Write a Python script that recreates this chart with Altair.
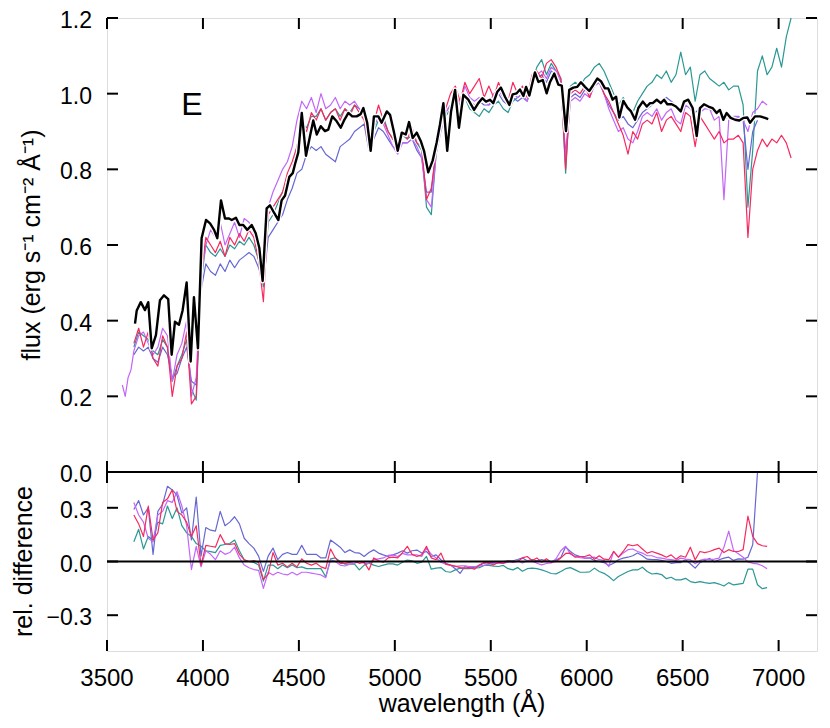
import altair as alt
import pandas as pd

FONT = "Liberation Sans"

# ---------------- data ----------------
# wavelength grid of the four observed spectra (Angstrom)
wave_spec = [3580, 3595, 3610, 3625,
             3640, 3665, 3690, 3715, 3740, 3765, 3790, 3815, 3840, 3865,
             3890, 3915, 3940, 3965, 3990, 4015, 4040, 4065, 4090, 4115,
             4140, 4165, 4190, 4215, 4240, 4265, 4290, 4315, 4340, 4365,
             4390, 4415, 4440, 4465, 4490, 4515, 4540, 4565, 4590, 4615,
             4640, 4665, 4690, 4715, 4740, 4765, 4790, 4815, 4840, 4865,
             4890, 4915, 4940, 4965, 4990, 5015, 5040, 5065, 5090, 5115,
             5140, 5165, 5190, 5215, 5240, 5265, 5290, 5315, 5340, 5365,
             5390, 5415, 5440, 5465, 5490, 5515, 5540, 5565, 5590, 5615,
             5640, 5665, 5690, 5715, 5740, 5765, 5790, 5815, 5840, 5865,
             5890, 5915, 5940, 5965, 5990, 6015, 6040, 6065, 6090, 6115,
             6140, 6165, 6190, 6215, 6240, 6265, 6290, 6315, 6340, 6365,
             6390, 6415, 6440, 6465, 6490, 6515, 6540, 6565, 6590, 6615,
             6640, 6665, 6690, 6715, 6740, 6765, 6790, 6815, 6840, 6865,
             6890, 6915, 6940, 6965,
             6990, 7015, 7040, 7065]

flux_red = [None, None, None, None,
            0.34, 0.38, 0.33, 0.37, 0.30, 0.28, 0.36, 0.33, 0.20, 0.28,
            0.30, 0.37, 0.18, 0.20, 0.52, 0.62, 0.60, 0.58, 0.61, 0.57,
            0.62, 0.60, 0.63, 0.61, 0.64, 0.62, 0.56, 0.45, 0.68, 0.70,
            0.72, 0.74, 0.79, 0.82, 0.86, 0.92, 0.90, 0.95, 0.93, 0.96,
            0.93, 0.95, 0.96, 0.93, 0.96, 0.94, 0.97, 0.95, 0.93, 0.86,
            0.92, 0.97, 0.93, 0.90, 0.88, 0.86, 0.90, 0.88, 0.91, 0.87,
            0.86, 0.72, 0.75, 0.85, 0.92, 0.96, 1.00, 1.02, 0.98, 1.03,
            1.00, 1.02, 1.04, 0.99, 1.02, 0.99, 1.03, 1.00, 0.98, 1.03,
            1.00, 1.02, 0.99, 1.05, 1.06, 1.04, 1.08, 1.09, 1.07, 1.04,
            0.80, 1.00, 1.01, 1.00, 1.02, 0.99, 1.03, 1.04, 1.00, 0.98,
            0.95, 0.92, 0.89, 0.84, 0.90, 0.88, 0.92, 0.93, 0.92, 0.95,
            0.90, 0.93, 0.94, 0.92, 0.90, 0.95, 0.94, 0.86, 0.94, 0.92,
            0.90, 0.88, 0.90, 0.87, 0.88, 0.88, 0.89, 0.87, 0.62, 0.80,
            0.85, 0.88, 0.86, 0.88,
            0.87, 0.89, 0.87, 0.83]

flux_purple = [0.23, 0.20, 0.25, 0.27,
               0.32, 0.36, 0.37, 0.34, 0.31, 0.33, 0.38, 0.36, 0.24, 0.31,
               0.34, 0.40, 0.20, 0.25, 0.52, 0.60, 0.64, 0.62, 0.66, 0.60,
               0.63, 0.66, 0.62, 0.67, 0.66, 0.63, 0.58, 0.50, 0.70, 0.74,
               0.77, 0.80, 0.82, 0.86, 0.93, 0.98, 0.96, 0.99, 0.95, 1.00,
               0.96, 0.97, 0.99, 0.96, 0.98, 0.97, 0.98, 0.96, 0.94, 0.88,
               0.91, 0.94, 0.92, 0.89, 0.86, 0.84, 0.87, 0.87, 0.88, 0.86,
               0.83, 0.72, 0.70, 0.84, 0.90, 0.95, 0.97, 1.00, 0.97, 1.02,
               0.99, 0.98, 0.99, 0.98, 0.97, 1.00, 1.01, 0.99, 0.97, 1.00,
               0.99, 1.00, 0.98, 1.04, 1.05, 1.06, 1.04, 1.07, 1.06, 1.03,
               0.83, 0.98, 0.99, 0.98, 1.00, 0.99, 1.02, 1.03, 1.00, 0.96,
               0.93, 0.90, 0.91, 0.88, 0.87, 0.90, 0.94, 0.95, 0.94, 0.96,
               0.93, 0.95, 0.96, 0.93, 0.92, 0.97, 0.96, 0.93, 0.95, 0.96,
               0.96, 0.93, 0.94, 0.72, 0.93, 0.94, 0.94, 0.93, 0.90, 0.95,
               0.96, 0.98, 0.97, None,
               None, None, None, None]

flux_blue = [None, None, None, None,
             0.31, 0.33, 0.32, 0.33, 0.30, 0.29, 0.33, 0.31, 0.25, 0.26,
             0.30, 0.33, 0.24, 0.23, 0.48, 0.55, 0.53, 0.52, 0.55, 0.53,
             0.56, 0.54, 0.56, 0.57, 0.58, 0.57, 0.54, 0.50, 0.62, 0.64,
             0.66, 0.68, 0.72, 0.75, 0.79, 0.80, 0.84, 0.86, 0.85, 0.86,
             0.84, 0.83, 0.82, 0.86, 0.87, 0.88, 0.90, 0.91, 0.92, 0.85,
             0.88, 0.91, 0.90, 0.88, 0.86, 0.85, 0.87, 0.87, 0.88, 0.85,
             0.83, 0.74, 0.74, 0.85, 0.91, 0.95, 0.97, 0.99, 0.97, 1.00,
             0.98, 0.97, 0.98, 0.97, 0.97, 0.98, 1.00, 0.98, 0.97, 0.99,
             0.98, 0.99, 0.98, 1.03, 1.04, 1.05, 1.03, 1.06, 1.05, 1.02,
             0.84, 0.99, 1.00, 0.99, 1.01, 1.00, 1.02, 1.03, 1.00, 0.97,
             0.95, 0.93, 0.94, 0.92, 0.91, 0.93, 0.95, 0.96, 0.97, 0.98,
             0.98, 0.99, 0.98, 0.97, 0.95, 0.98, 0.97, 0.95, 0.96, 0.97,
             0.96, 0.95, 0.95, 0.93, 0.94, 0.93, 0.94, 0.93, 0.80, 0.90,
             0.93, None, None, None,
             None, None, None, None]

flux_teal = [None, None, None, None,
             0.33, 0.37, 0.36, 0.35, 0.32, 0.31, 0.35, 0.33, 0.24, 0.28,
             0.31, 0.35, 0.22, 0.19, 0.50, 0.60, 0.58, 0.57, 0.59, 0.57,
             0.60, 0.59, 0.61, 0.60, 0.62, 0.60, 0.56, 0.49, 0.66, 0.68,
             0.71, 0.74, 0.77, 0.80, 0.86, 0.92, 0.91, 0.94, 0.94, 0.96,
             0.93, 0.95, 0.96, 0.94, 0.96, 0.95, 0.97, 0.96, 0.95, 0.88,
             0.90, 0.93, 0.94, 0.90, 0.88, 0.86, 0.89, 0.88, 0.89, 0.87,
             0.85, 0.70, 0.68, 0.84, 0.92, 0.94, 0.96, 0.98, 0.94, 0.99,
             0.96, 0.95, 0.94, 0.96, 0.95, 0.97, 0.98, 0.96, 0.95, 0.98,
             0.99, 1.00, 1.01, 1.03, 1.07, 1.09, 1.05, 1.08, 1.06, 1.04,
             0.79, 1.02, 1.03, 1.02, 1.04, 1.05, 1.07, 1.08, 1.06, 1.03,
             1.00, 0.97, 0.99, 0.96, 0.95, 0.98, 1.00, 1.02, 1.03, 1.05,
             1.04, 1.06, 1.03, 1.05, 1.11, 1.05, 1.07, 0.98, 1.05, 1.06,
             1.04, 1.03, 1.02, 1.03, 1.01, 1.02, 1.02, 0.97, 0.70, 0.85,
             1.06, 1.10, 1.05, 1.07,
             1.12, 1.07, 1.15, 1.20]

# model (thick black curve)
wave_model = [3646, 3655, 3676, 3698, 3715, 3733, 3755, 3776, 3797, 3819,
              3837, 3854, 3875, 3894, 3915, 3936, 3953, 3974, 3993, 4016,
              4037, 4058, 4075, 4094, 4115, 4136, 4150, 4172, 4190, 4210,
              4231, 4254, 4275, 4294, 4311, 4332, 4349, 4372, 4393, 4410,
              4428, 4450, 4468, 4480, 4497, 4515, 4537, 4558, 4575, 4593,
              4614, 4636, 4653, 4674, 4697, 4718, 4737, 4758, 4778, 4801,
              4822, 4836, 4856, 4874, 4891, 4914, 4931, 4958, 4975, 4996,
              5015, 5036, 5057, 5074, 5093, 5114, 5135, 5152, 5174, 5197,
              5218, 5235, 5253, 5273, 5293, 5314, 5334, 5357, 5383, 5413,
              5435, 5456, 5475, 5496, 5513, 5534, 5553, 5574, 5597, 5614,
              5635, 5652, 5670, 5684, 5701, 5730, 5748, 5771, 5791, 5809,
              5831, 5852, 5870, 5892, 5909, 5930, 5951, 5970, 5991, 6013,
              6034, 6055, 6074, 6095, 6112, 6135, 6153, 6170, 6191, 6212,
              6231, 6252, 6269, 6292, 6313, 6330, 6344, 6365, 6386, 6403,
              6420, 6443, 6465, 6490, 6507, 6529, 6552, 6573, 6590, 6611,
              6634, 6656, 6677, 6694, 6712, 6729, 6750, 6773, 6795, 6816,
              6837, 6851, 6877, 6903, 6929, 6946]
flux_model = [0.392, 0.427, 0.449, 0.428, 0.449, 0.327, 0.362, 0.454, 0.467, 0.457,
              0.310, 0.397, 0.389, 0.427, 0.501, 0.292, 0.462, 0.327, 0.618, 0.666,
              0.657, 0.640, 0.618, 0.718, 0.670, 0.670, 0.666, 0.672, 0.653, 0.653,
              0.640, 0.653, 0.631, 0.592, 0.505, 0.697, 0.705, 0.684, 0.666, 0.718,
              0.731, 0.780, 0.790, 0.814, 0.845, 0.949, 0.836, 0.888, 0.929, 0.892,
              0.914, 0.901, 0.905, 0.940, 0.927, 0.910, 0.931, 0.949, 0.940, 0.940,
              0.946, 0.962, 0.923, 0.849, 0.940, 0.940, 0.923, 0.953, 0.944, 0.897,
              0.849, 0.897, 0.892, 0.925, 0.883, 0.897, 0.875, 0.849, 0.792, 0.823,
              0.871, 0.918, 0.975, 0.849, 0.953, 1.010, 0.910, 0.997, 0.984, 0.957,
              0.975, 0.988, 0.979, 0.984, 0.975, 1.005, 1.016, 0.992, 0.970, 0.998,
              1.001, 1.011, 0.994, 1.018, 0.995, 1.056, 1.031, 1.036, 1.001, 1.031,
              1.053, 1.024, 1.021, 0.901, 1.010, 1.016, 1.018, 1.030, 1.018, 1.007,
              1.023, 1.040, 1.033, 1.014, 1.014, 0.984, 0.992, 0.937, 0.981, 0.963,
              0.953, 0.931, 0.962, 0.979, 0.966, 0.975, 0.975, 0.984, 0.975, 0.984,
              0.972, 0.972, 0.966, 0.953, 0.979, 0.984, 0.962, 0.888, 0.962, 0.972,
              0.966, 0.962, 0.949, 0.957, 0.931, 0.949, 0.936, 0.931, 0.929, 0.936,
              0.937, 0.923, 0.940, 0.940, 0.936, 0.933]

# relative differences (lower panel)
wave_diff = [3640, 3665, 3690, 3715, 3740, 3765, 3790, 3815, 3840, 3865,
             3890, 3915, 3940, 3965, 3990, 4015, 4040, 4065, 4090, 4115,
             4140, 4165, 4190, 4215, 4240, 4265, 4290, 4315, 4340, 4365,
             4390, 4415, 4440, 4465, 4490, 4515, 4540, 4565, 4590, 4615,
             4640, 4665, 4690, 4715, 4740, 4765, 4790, 4815, 4840, 4865,
             4890, 4915, 4940, 4965, 4990, 5015, 5040, 5065, 5090, 5115,
             5140, 5165, 5190, 5215, 5240, 5265, 5290, 5315, 5340, 5365,
             5390, 5415, 5440, 5465, 5490, 5515, 5540, 5565, 5590, 5615,
             5640, 5665, 5690, 5715, 5740, 5765, 5790, 5815, 5840, 5865,
             5890, 5915, 5940, 5965, 5990, 6015, 6040, 6065, 6090, 6115,
             6140, 6165, 6190, 6215, 6240, 6265, 6290, 6315, 6340, 6365,
             6390, 6415, 6440, 6465, 6490, 6515, 6540, 6565, 6590, 6615,
             6640, 6665, 6690, 6715, 6740, 6765, 6790, 6815, 6840, 6865,
             6890, 6915, 6940]

diff_blue = [0.29, 0.34, 0.26, 0.30, 0.04, 0.28, 0.32, 0.42, 0.40, 0.37,
             0.27, 0.30, 0.12, 0.36, 0.03, 0.19, 0.175, 0.17, 0.28, 0.20,
             0.22, 0.25, 0.21, 0.13, 0.10, 0.075, 0.03, -0.055, 0.03, 0.075,
             0.01, 0.04, 0.05, 0.04, 0.04, 0.09, 0.04, 0.04, 0.04, 0.02,
             0.02, 0.12, 0.10, 0.08, 0.05, 0.065, 0.05, 0.047, 0.028, 0.05,
             0.065, 0.047, 0.037, 0.028, 0.037, 0.047, 0.06, 0.047, 0.06, 0.064,
             0.047, 0.056, 0.028, 0.037, 0.01, -0.01, -0.02, -0.04, -0.066, -0.028,
             -0.037, -0.032, -0.022, -0.01, -0.004, -0.006, -0.01, 0.0, 0.004, 0.004,
             0.011, 0.02, 0.004, 0.01, 0.004, 0.01, 0.004, 0.0, 0.008, 0.022,
             0.082, 0.056, 0.037, 0.028, 0.019, 0.02, 0.006, 0.0, -0.006, -0.022,
             -0.01, 0.01, 0.019, 0.024, 0.032, 0.047, 0.032, 0.013, 0.01, 0.01,
             0.006, 0.0, -0.01, -0.006, -0.006, 0.01, -0.013, -0.037, -0.006, 0.006,
             0.017, -0.002, 0.01, 0.019, 0.024, 0.006, 0.015, 0.013, 0.024, 0.094,
             0.5, None, None]

diff_red = [0.26, 0.21, 0.14, 0.31, 0.12, 0.16, 0.33, 0.35, 0.40, 0.28,
            0.26, 0.22, 0.14, 0.20, -0.02, 0.09, 0.085, 0.08, 0.15, 0.10,
            0.095, 0.10, 0.04, 0.01, 0.0, 0.005, -0.005, -0.10, -0.07, 0.05,
            -0.02, -0.01, -0.03, -0.01, -0.03, 0.015, -0.01, -0.02, -0.01, -0.03,
            -0.04, 0.07, 0.02, -0.01, -0.01, -0.005, 0.0, -0.01, -0.004, -0.047,
            0.02, 0.004, -0.004, 0.02, 0.024, 0.02, 0.05, 0.085, 0.04, 0.028,
            0.037, 0.085, 0.02, 0.01, 0.047, -0.015, -0.02, -0.026, -0.034, -0.037,
            -0.034, -0.043, -0.019, -0.004, -0.01, -0.019, -0.004, -0.01, 0.004, -0.004,
            0.0, 0.02, 0.028, 0.006, 0.02, -0.004, 0.015, -0.004, 0.0, 0.02,
            0.045, 0.047, 0.024, 0.028, 0.028, 0.037, 0.013, 0.032, 0.013, 0.01,
            0.056, 0.024, 0.056, 0.094, 0.088, 0.094, 0.07, 0.047, 0.056, 0.047,
            0.037, 0.024, 0.037, 0.013, 0.032, 0.024, 0.08, 0.01, 0.056, 0.05,
            0.056, 0.066, 0.075, 0.05, 0.066, 0.056, 0.056, 0.066, 0.253, 0.14,
            0.10, 0.088, 0.084]

diff_teal = [0.11, 0.18, 0.07, 0.14, 0.12, 0.22, 0.21, 0.31, 0.24, 0.30,
             0.20, 0.16, 0.14, 0.10, 0.085, 0.06, 0.055, 0.05, 0.09, 0.095,
             0.10, 0.12, 0.06, 0.01, 0.0, -0.005, -0.02, -0.11, -0.02, -0.02,
             -0.04, -0.02, -0.035, -0.02, -0.035, -0.03, -0.04, -0.04, -0.04, -0.04,
             -0.085, 0.015, 0.02, 0.0, -0.015, -0.015, -0.015, -0.047, -0.02, -0.01,
             -0.02, -0.028, -0.02, -0.013, -0.013, -0.02, -0.004, 0.008, 0.004, -0.01,
             -0.004, 0.028, -0.043, -0.037, -0.034, -0.056, -0.06, -0.047, -0.037, -0.04,
             -0.04, -0.037, -0.034, -0.022, -0.022, -0.026, -0.028, -0.022, -0.04, -0.047,
             -0.034, -0.054, -0.04, -0.037, -0.04, -0.047, -0.056, -0.067, -0.069, -0.056,
             -0.04, -0.034, -0.047, -0.06, -0.06, -0.058, -0.037, -0.056, -0.066, -0.084,
             -0.107, -0.084, -0.07, -0.056, -0.047, -0.047, -0.032, -0.056, -0.07, -0.066,
             -0.073, -0.096, -0.088, -0.103, -0.103, -0.094, -0.112, -0.118, -0.112, -0.118,
             -0.122, -0.118, -0.126, -0.137, -0.118, -0.131, -0.126, -0.122, -0.043, -0.043,
             -0.13, -0.152, -0.146]

diff_purple = [0.33, 0.26, 0.22, 0.13, 0.11, 0.26, 0.28, 0.34, 0.33, 0.39,
               0.31, 0.20, -0.045, 0.085, -0.03, 0.06, 0.04, 0.01, 0.06, 0.04,
               0.05, 0.08, 0.02, -0.02, -0.035, -0.045, -0.05, -0.15, -0.06, -0.075,
               -0.06, -0.07, -0.075, -0.06, -0.075, -0.06, -0.06, -0.065, -0.07, -0.075,
               -0.09, 0.01, 0.0, -0.02, -0.025, -0.015, -0.01, 0.0, -0.01, -0.01,
               0.01, 0.015, 0.02, 0.034, 0.037, 0.028, 0.045, 0.037, 0.037, 0.037,
               0.028, 0.075, 0.04, 0.02, -0.004, -0.015, -0.022, -0.028, -0.024, -0.024,
               -0.028, -0.028, -0.026, -0.022, -0.015, -0.011, -0.01, -0.01, -0.004, 0.0,
               0.004, -0.008, 0.004, 0.004, -0.01, -0.019, -0.011, -0.008, 0.015, 0.06,
               0.085, 0.041, 0.028, 0.022, 0.019, 0.02, 0.024, 0.01, 0.006, -0.028,
               0.056, 0.024, 0.047, 0.066, 0.07, 0.056, 0.047, 0.032, 0.032, 0.022,
               0.019, 0.013, 0.01, 0.006, 0.019, 0.013, 0.01, -0.013, 0.006, 0.013,
               0.01, 0.013, 0.019, 0.08, 0.17, 0.062, 0.043, 0.024, -0.002, -0.01,
               -0.013, -0.024, -0.04]

# axis ticks and their labels
x_ticks = [3500, 4000, 4500, 5000, 5500, 6000, 6500, 7000]
x_tick_labels = ["3500", "4000", "4500", "5000", "5500", "6000", "6500", "7000"]
flux_ticks = [0.0, 0.2, 0.4, 0.6, 0.8, 1.0, 1.2]
flux_tick_labels = ["0.0", "0.2", "0.4", "0.6", "0.8", "1.0", "1.2"]
diff_ticks = [-0.3, 0.0, 0.3]
diff_tick_labels = ["\u22120.3", "0.0", "0.3"]
panel_label = ["E"]
flux_title = ["flux (erg s\u207b\u00b9 cm\u207b\u00b2 \u00c5\u207b\u00b9)"]
diff_title = ["rel. difference"]
x_title = ["wavelength (\u00c5)"]

COLORS = {"red": "#f7295e", "purple": "#c266fa", "blue": "#6767d3", "teal": "#2a9894"}

# ---------------- geometry ----------------
W, H = 710, 633
H_TOP = 454
TICK = 11
X_DOM = [3500, 7200]
F_DOM = [0.0, 1.2]
D_DOM = [-0.5, 0.5]

# tick length expressed in data units of each scale
dX = TICK * (X_DOM[1] - X_DOM[0]) / W
dF = TICK * (F_DOM[1] - F_DOM[0]) / H_TOP
dD = TICK * (D_DOM[1] - D_DOM[0]) / (H - H_TOP)

x_scale = alt.Scale(domain=X_DOM, nice=False, zero=False)
flux_scale = alt.Scale(domain=F_DOM, range=[H_TOP, 0], nice=False, zero=False)
diff_scale = alt.Scale(domain=D_DOM, range=[H, H_TOP], nice=False, zero=False)

# ---------------- tables ----------------
spec_df = pd.DataFrame({"wl": wave_spec, "red": flux_red, "purple": flux_purple,
                        "blue": flux_blue, "teal": flux_teal})
model_df = pd.DataFrame({"wl": wave_model, "model": flux_model})
diff_df = pd.DataFrame({"wl": wave_diff, "red": diff_red, "purple": diff_purple,
                        "blue": diff_blue, "teal": diff_teal})
zero_df = pd.DataFrame({"level": [0.0]})
sep_df = pd.DataFrame({"level": [D_DOM[1]]})
xlab_df = pd.DataFrame({"wl": x_ticks, "label": x_tick_labels})
flab_df = pd.DataFrame({"v": flux_ticks, "label": flux_tick_labels})
dlab_df = pd.DataFrame({"v": diff_ticks, "label": diff_tick_labels})


def xtick_table(y_from, y_to):
    rows = []
    for t in x_ticks:
        rows.append({"wl": t, "y": y_from, "id": f"x{t}"})
        rows.append({"wl": t, "y": y_to, "id": f"x{t}"})
    return pd.DataFrame(rows)


def ytick_table(values, x_from, x_to):
    rows = []
    for v in values:
        rows.append({"wl": x_from, "y": v, "id": f"y{v}"})
        rows.append({"wl": x_to, "y": v, "id": f"y{v}"})
    return pd.DataFrame(rows)


def X(field="wl"):
    return alt.X(f"{field}:Q", scale=x_scale, axis=None)


def line(df, field, color, width, yscale):
    return alt.Chart(df).mark_line(color=color, strokeWidth=width, strokeJoin="round").encode(
        x=X(), y=alt.Y(f"{field}:Q", scale=yscale, axis=None))


def ticks(df, yscale):
    # short inward tick segments, both ends placed through the scales
    return alt.Chart(df).mark_line(color="black", strokeWidth=2).encode(
        x=X(), y=alt.Y("y:Q", scale=yscale, axis=None), detail="id:N")


def ylabels(df, yscale):
    return alt.Chart(df).mark_text(font=FONT, fontSize=23, color="black", align="right",
                                   baseline="middle", dy=3).encode(
        y=alt.Y("v:Q", scale=yscale, axis=None), x=alt.value(-15), text="label:N")


def title_text(text, x, y, angle=0, size=25):
    df = pd.DataFrame({"t": text})
    return alt.Chart(df).mark_text(font=FONT, fontSize=size, color="black", align="center",
                                   baseline="alphabetic", angle=angle).encode(
        x=alt.value(x), y=alt.value(y), text="t:N")


top = alt.layer(
    line(spec_df, "teal", COLORS["teal"], 1.2, flux_scale),
    line(spec_df, "blue", COLORS["blue"], 1.2, flux_scale),
    line(spec_df, "purple", COLORS["purple"], 1.2, flux_scale),
    line(spec_df, "red", COLORS["red"], 1.2, flux_scale),
    line(model_df, "model", "white", 5, flux_scale),
    line(model_df, "model", "black", 2.4, flux_scale),
    ticks(ytick_table(flux_ticks, X_DOM[0], X_DOM[0] + dX), flux_scale),
    ticks(ytick_table(flux_ticks, X_DOM[1] - dX, X_DOM[1]), flux_scale),
    ticks(xtick_table(F_DOM[1], F_DOM[1] - dF), flux_scale),
    ticks(xtick_table(F_DOM[0], F_DOM[0] + dF), flux_scale),
    ylabels(flab_df, flux_scale),
    title_text(flux_title, -67, H_TOP / 2, angle=270),
    title_text(panel_label, 85, 97, size=32),
)

bottom = alt.layer(
    line(diff_df, "teal", COLORS["teal"], 1.2, diff_scale),
    line(diff_df, "blue", COLORS["blue"], 1.2, diff_scale),
    line(diff_df, "purple", COLORS["purple"], 1.2, diff_scale),
    line(diff_df, "red", COLORS["red"], 1.2, diff_scale),
    alt.Chart(zero_df).mark_rule(color="black", strokeWidth=2).encode(
        y=alt.Y("level:Q", scale=diff_scale, axis=None)),
    alt.Chart(sep_df).mark_rule(color="black", strokeWidth=2).encode(
        y=alt.Y("level:Q", scale=diff_scale, axis=None)),
    ticks(ytick_table(diff_ticks, X_DOM[0], X_DOM[0] + dX), diff_scale),
    ticks(ytick_table(diff_ticks, X_DOM[1] - dX, X_DOM[1]), diff_scale),
    ticks(xtick_table(D_DOM[1], D_DOM[1] - dD), diff_scale),
    ticks(xtick_table(D_DOM[0], D_DOM[0] + dD), diff_scale),
    ylabels(dlab_df, diff_scale),
    alt.Chart(xlab_df).mark_text(font=FONT, fontSize=24, color="black", align="center",
                                 baseline="top").encode(
        x=X(), y=alt.value(H + 16), text="label:N"),
    title_text(diff_title, -75, (H_TOP + H) / 2, angle=270),
    title_text(x_title, W / 2, H + 61),
)

chart = alt.layer(top, bottom).resolve_scale(y="independent").resolve_axis(
    y="independent"
).properties(
    width=W, height=H,
    padding={"left": 99, "top": 10, "right": 5, "bottom": 70},
    autosize=alt.AutoSizeParams(type="none"),
).configure_view(stroke="black", strokeWidth=2).configure(background="white")

chart.save("out.html", embed_options={"renderer": "svg", "actions": False})
